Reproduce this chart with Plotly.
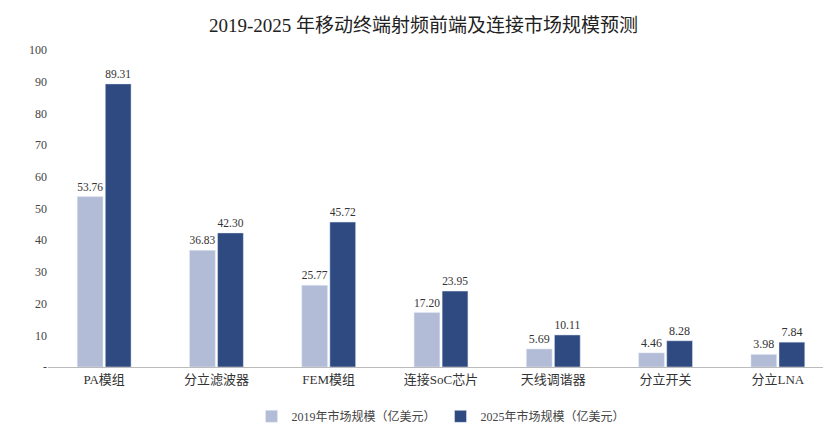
import plotly.graph_objects as go

categories = ["PA模组", "分立滤波器", "FEM模组", "连接SoC芯片", "天线调谐器", "分立开关", "分立LNA"]
v2019 = [53.76, 36.83, 25.77, 17.20, 5.69, 4.46, 3.98]
v2025 = [89.31, 42.30, 45.72, 23.95, 10.11, 8.28, 7.84]
name2019 = "2019年市场规模（亿美元）"
name2025 = "2025年市场规模（亿美元）"
yticks = [0, 10, 20, 30, 40, 50, 60, 70, 80, 90, 100]
yticklabels = ["-", "10", "20", "30", "40", "50", "60", "70", "80", "90", "100"]

font = "Liberation Serif, Noto Sans CJK SC"
fig = go.Figure()
fig.add_bar(x=categories, y=v2019, name=name2019, marker_color="#b3bcd7",
            text=[f"{v:.2f}" for v in v2019], textposition="outside",
            textfont=dict(size=12, color="#333"))
fig.add_bar(x=categories, y=v2025, name=name2025, marker_color="#2f4a80",
            text=[f"{v:.2f}" for v in v2025], textposition="outside",
            textfont=dict(size=12, color="#333"))
fig.update_layout(
    width=831, height=428, plot_bgcolor="white", paper_bgcolor="white",
    font=dict(family=font, size=12, color="#444"),
    title=dict(text="2019-2025 年移动终端射频前端及连接市场规模预测", x=0.5, y=0.975,
               xanchor="center", font=dict(size=19, color="#222")),
    barmode="group", bargap=0.5, bargroupgap=0.08,
    margin=dict(l=40, r=5, t=50, b=58),
    legend=dict(orientation="h", x=0.5, xanchor="center", y=-0.11, yanchor="top",
                font=dict(size=12)),
)
fig.update_yaxes(range=[0, 100], tickvals=yticks, ticktext=yticklabels,
                 showgrid=False, zeroline=False, showline=False, ticks="")
fig.update_xaxes(showline=True, linecolor="#bbb", ticks="", tickfont=dict(size=13, color="#333"))
fig.update_traces(cliponaxis=False)
fig.update_layout(margin=dict(t=42))
fig.write_html("out.html")
